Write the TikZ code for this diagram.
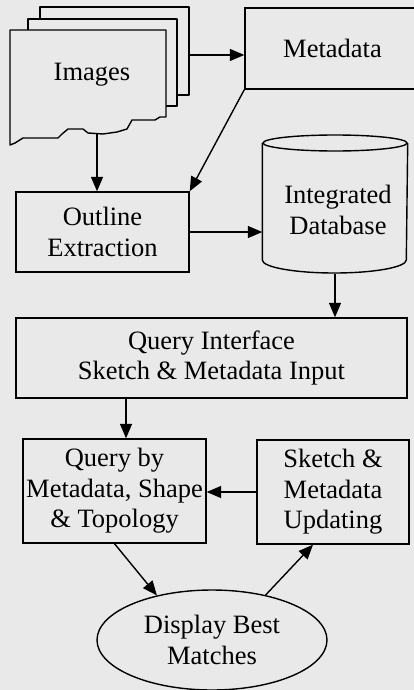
\documentclass[tikz,border=0pt]{standalone}
\usepackage{fontspec}
\setmainfont{Liberation Serif}
\usetikzlibrary{arrows.meta,shapes.geometric,calc}
\definecolor{paper}{RGB}{233,233,233}
\begin{document}
\begin{tikzpicture}[x=1pt,y=-1pt,
  line width=1.4pt,
  every node/.style={font=\fontsize{26.5}{30.5}\selectfont, align=center, inner sep=0pt},
  box/.style={draw, fill=paper, rectangle},
  arr/.style={-{Triangle[length=14.5pt,width=12pt]}},
  page/.style={draw, fill=paper, line join=round}]
\useasboundingbox (0,0) rectangle (414,690);
\fill[paper] (0,0) rectangle (414,690);
\clip (0,0) rectangle (414,690);
% image stack
\draw[page] (40,7) rectangle (189,95);
\draw[page] (28,19) rectangle (177,106);
\draw[page] (10,30) -- (166,30) -- (166,117) -- (160,117) -- (155,120) -- (132,120)
  -- (127,129) -- (117,132) -- (103,134) -- (88,133) -- (83,129) -- (68,129)
  -- (62,134) -- (58,138) -- (23,138) -- (15,143) -- (10,145) -- cycle;
\node (img) at (92,75) {Images};
\coordinate (imgbot) at (97,133);
\coordinate (imgright) at (189,55);
% boxes
\node[box, minimum width=175pt, minimum height=81pt] (meta) at (332.5,48.5) {Metadata};
\node[box, minimum width=173pt, minimum height=80pt] (out) at (102.5,232) {Outline\\Extraction};
% database cylinder
\node[minimum width=144pt, minimum height=138pt] (db) at (335,204) {};
\draw[fill=paper] (db.north west |- 0,143) -- (db.west |- 0,260)
  arc[start angle=180, end angle=360, x radius=72pt, y radius=13pt]
  -- (db.east |- 0,143);
\draw[fill=paper] (335,143) ellipse[x radius=72pt, y radius=8pt];
\node at (338,210) {Integrated\\Database};
\node[box, minimum width=391pt, minimum height=80pt] (qi) at (211.5,358) {Query Interface\\Sketch \& Metadata Input};
\node[box, minimum width=183pt, minimum height=104pt] (qb) at (114.5,491) {Query by\\Metadata, Shape\\\& Topology};
\node[box, minimum width=152pt, minimum height=104pt] (sk) at (333,492) {Sketch \&\\Metadata\\Updating};
\node[draw, fill=paper, ellipse, minimum width=230pt, minimum height=100pt] (disp) at (212,640) {Display Best\\Matches};
% connectors
\draw[arr] (imgright) -- (imgright -| meta.west);
\draw[arr] (imgbot) -- (imgbot |- out.north);
\draw[arr] (meta.south west) -- (out.north east);
\draw[arr] (out.east) -- (out.east -| db.west);
\draw[arr] (db.south) -- (db.south |- qi.north);
\draw[arr] ([xshift=11.5pt]qb.north |- qi.south) -- ([xshift=11.5pt]qb.north);
\draw[arr] (sk.west) -- (sk.west -| qb.east);
\draw[arr] (qb.south) -- (disp.141);
\draw[arr] (disp.40) -- ([xshift=-20pt]sk.south);
\end{tikzpicture}
\end{document}
